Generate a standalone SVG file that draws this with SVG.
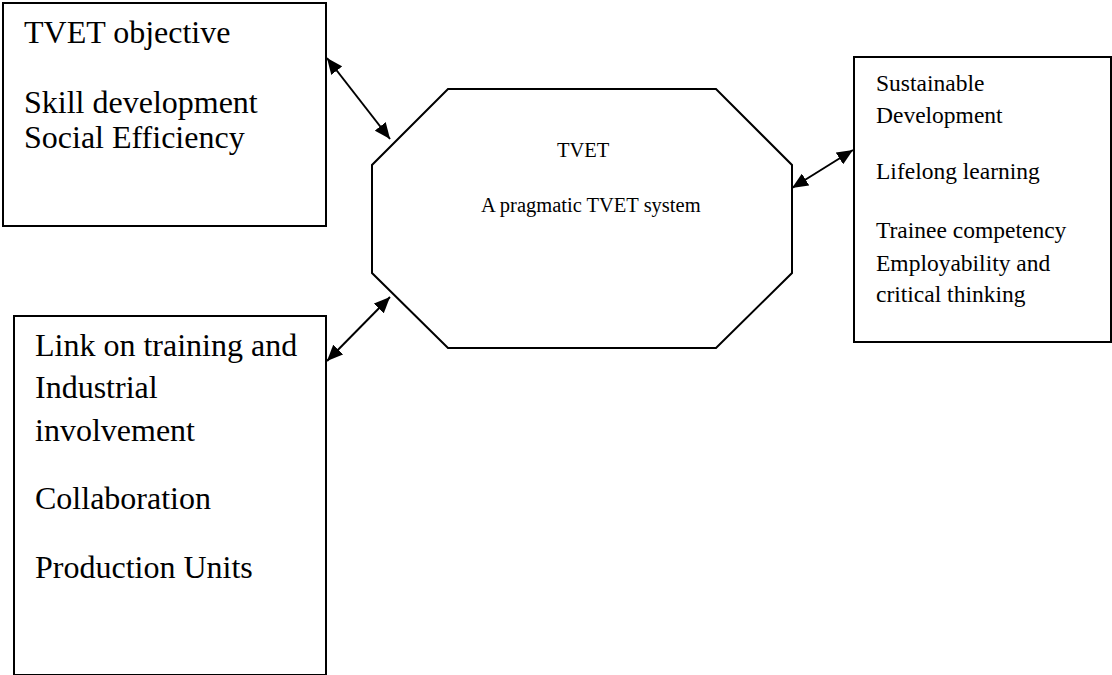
<svg xmlns="http://www.w3.org/2000/svg" width="1112" height="675" viewBox="0 0 1112 675">
<style>
.box{fill:#fff;stroke:#000;stroke-width:2}
.t{font-family:"Liberation Serif","Times New Roman",serif;fill:#000}
.big{font-size:32px}
.mid{font-size:23.5px}
.sm{font-size:20.5px}
.conn{stroke:#000;stroke-width:2;fill:none}
</style>
<defs>
<marker id="ah" markerUnits="userSpaceOnUse" markerWidth="16" markerHeight="14" refX="16" refY="7" orient="auto-start-reverse">
<path d="M0,0 L16,7 L0,14 z" fill="#000"/>
</marker>
</defs>
<rect width="1112" height="675" fill="#fff"/>
<g id="node-objective">
<rect class="box" x="3" y="3" width="323" height="223"/>
<text class="t big" x="24" y="43">TVET objective</text>
<text class="t big" x="24" y="113">Skill development</text>
<text class="t big" x="24" y="148">Social Efficiency</text>
</g>
<g id="node-link">
<rect class="box" x="14" y="316" width="312" height="359"/>
<text class="t big" x="35" y="356">Link on training and</text>
<text class="t big" x="35" y="398">Industrial</text>
<text class="t big" x="35" y="441">involvement</text>
<text class="t big" x="35" y="509">Collaboration</text>
<text class="t big" x="35" y="578">Production Units</text>
</g>
<g id="node-tvet">
<polygon class="box" points="448,89 716,89 792,165 792,273 716,348 448,348 372,273 372,165"/>
<text class="t sm" x="557" y="157">TVET</text>
<text class="t sm" x="481" y="212">A pragmatic TVET system</text>
</g>
<g id="node-outcomes">
<rect class="box" x="854" y="57" width="257" height="285"/>
<text class="t mid" x="876" y="91">Sustainable</text>
<text class="t mid" x="876" y="123">Development</text>
<text class="t mid" x="876" y="179">Lifelong learning</text>
<text class="t mid" x="876" y="238">Trainee competency</text>
<text class="t mid" x="876" y="271">Employability and</text>
<text class="t mid" x="876" y="302">critical thinking</text>
</g>
<g id="connectors">
<line class="conn" x1="327" y1="58" x2="390" y2="139" marker-start="url(#ah)" marker-end="url(#ah)"/>
<line class="conn" x1="327" y1="361" x2="390" y2="297" marker-start="url(#ah)" marker-end="url(#ah)"/>
<line class="conn" x1="792" y1="188" x2="853" y2="150" marker-start="url(#ah)" marker-end="url(#ah)"/>
</g>
</svg>
